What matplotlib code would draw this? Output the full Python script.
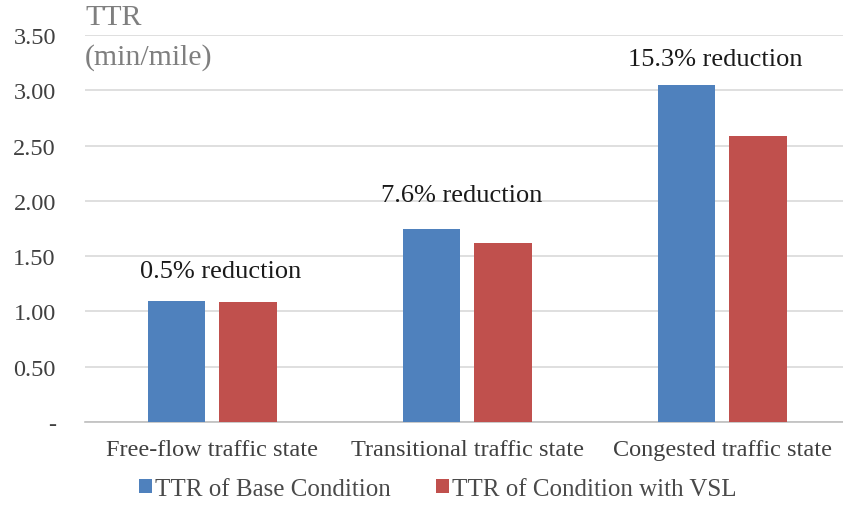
import matplotlib.pyplot as plt
import numpy as np

categories = ["Free-flow traffic state", "Transitional traffic state", "Congested traffic state"]
base_ttr = [1.09, 1.75, 3.05]
vsl_ttr = [1.085, 1.617, 2.585]
notes = ["0.5% reduction", "7.6% reduction", "15.3% reduction"]
note_x = [0.03, 0.976, 1.97]
note_y = [1.37, 2.05, 3.28]
yticks = [0, 0.5, 1.0, 1.5, 2.0, 2.5, 3.0, 3.5]
ytick_labels = ["-", "0.50", "1.00", "1.50", "2.00", "2.50", "3.00", "3.50"]

plt.rcParams['font.family'] = ['Liberation Serif', 'DejaVu Serif']

fig = plt.figure(figsize=(8.43, 5.10), dpi=100)
ax = fig.add_axes([85 / 843, 87 / 510, 765 / 843, 387 / 510])

x = np.arange(len(categories))
w = 0.224
ax.bar(x - 0.141, base_ttr, w, color="#4F81BD", label="TTR of Base Condition", zorder=3)
ax.bar(x + 0.139, vsl_ttr, w, color="#C0504D", label="TTR of Condition with VSL", zorder=3)

for i, t in enumerate(notes):
    ax.text(note_x[i], note_y[i], t, ha="center", va="center", fontsize=19, color="#1a1a1a")

ax.set_xlim(-0.5, 2.5)
ax.set_ylim(0, 3.5)
ax.set_yticks(yticks)
ax.set_yticklabels(ytick_labels)
ax.set_xticks(x)
ax.set_xticklabels(categories)
ax.tick_params(axis="both", length=0, labelsize=17.5, colors="#404040")
ax.tick_params(axis="y", pad=21)
ax.tick_params(axis="x", pad=12)
for lbl in ax.get_yticklabels():
    lbl.set_horizontalalignment("right")
ax.grid(axis="y", color="#d9d9d9", linewidth=1.2, zorder=0)
for s in ["top", "right", "left"]:
    ax.spines[s].set_visible(False)
ax.spines["bottom"].set_color("#bfbfbf")
ax.spines["bottom"].set_linewidth(1.2)

fig.text(85 / 843, 1 - 18 / 510, "TTR", fontsize=21.5, color="#7f7f7f", va="center", ha="left")
fig.text(85 / 843, 1 - 58 / 510, "(min/mile)", fontsize=21.5, color="#7f7f7f", va="center", ha="left")

fig.legend(loc="center", bbox_to_anchor=(438 / 843, 1 - 490 / 510), ncol=2, frameon=False,
           fontsize=18, handlelength=0.5, handleheight=0.5, handletextpad=0.15,
           columnspacing=1.8, labelcolor="#4a4a4a")

fig.savefig("out.png", dpi=100)
